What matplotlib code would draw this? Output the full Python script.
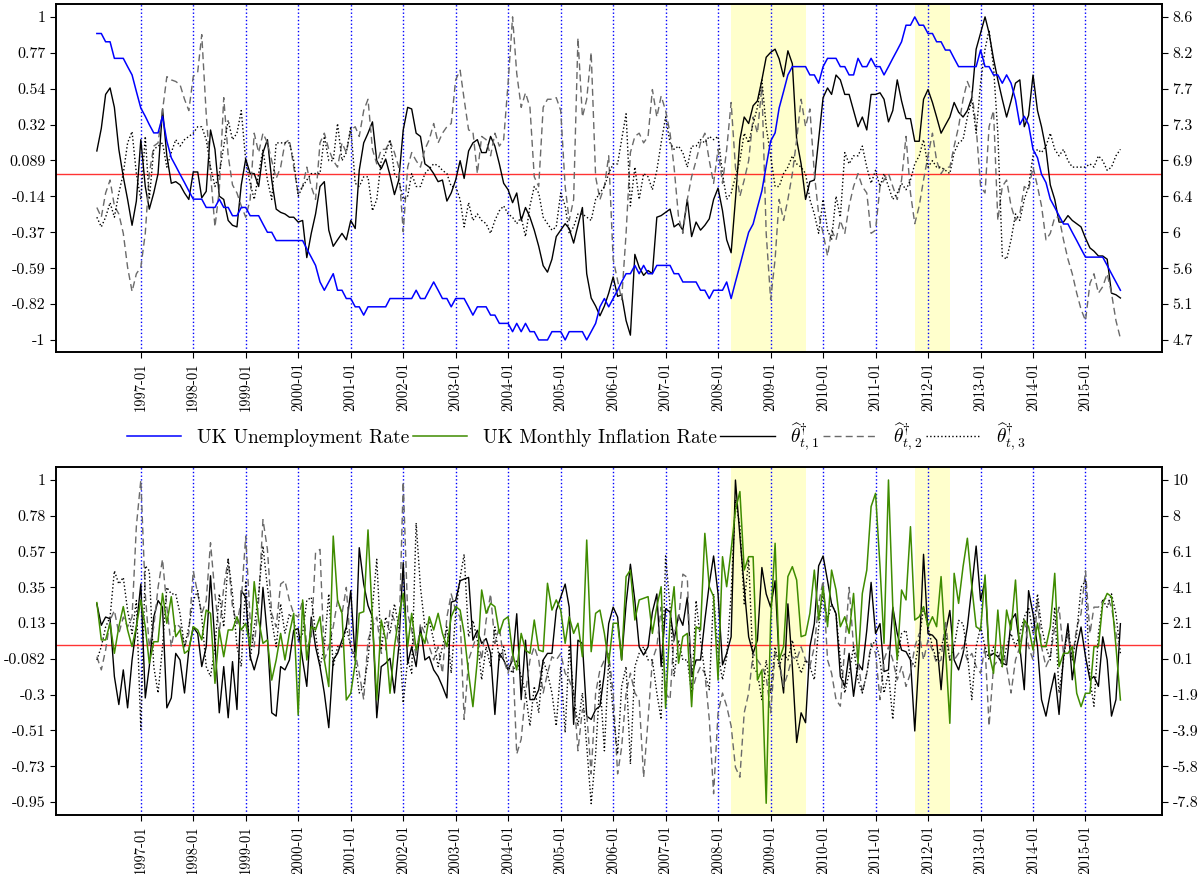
import numpy as np
import pandas as pd
import matplotlib
matplotlib.use('Agg')
import matplotlib.pyplot as plt

plt.rcParams['font.family'] = 'serif'
plt.rcParams['font.serif'] = ['cmr10']
plt.rcParams['mathtext.fontset'] = 'cm'
plt.rcParams['axes.unicode_minus'] = False

# monthly data, 1996-03 .. 2015-09
dates = pd.date_range('1996-03-01', periods=235, freq='MS')

unemp = [
    8.4, 8.4, 8.3, 8.3, 8.1, 8.1, 8.1, 8.0, 7.9, 7.7,
    7.5, 7.4, 7.3, 7.2, 7.2, 7.4, 7.1, 6.9, 6.8, 6.7,
    6.6, 6.5, 6.4, 6.4, 6.4, 6.3, 6.3, 6.3, 6.4, 6.3,
    6.3, 6.2, 6.2, 6.3, 6.3, 6.2, 6.2, 6.2, 6.1, 6.0,
    6.0, 5.9, 5.9, 5.9, 5.9, 5.9, 5.9, 5.9, 5.8, 5.7,
    5.6, 5.4, 5.3, 5.4, 5.5, 5.3, 5.3, 5.2, 5.2, 5.1,
    5.1, 5.0, 5.1, 5.1, 5.1, 5.1, 5.1, 5.2, 5.2, 5.2,
    5.2, 5.2, 5.2, 5.3, 5.2, 5.2, 5.3, 5.4, 5.3, 5.2,
    5.2, 5.1, 5.2, 5.2, 5.2, 5.1, 5.0, 5.1, 5.1, 5.1,
    5.0, 5.0, 4.9, 4.9, 4.9, 4.8, 4.9, 4.8, 4.9, 4.8,
    4.8, 4.7, 4.7, 4.7, 4.8, 4.8, 4.8, 4.7, 4.8, 4.8,
    4.8, 4.8, 4.7, 4.8, 4.9, 5.1, 5.2, 5.1, 5.2, 5.3,
    5.4, 5.5, 5.5, 5.6, 5.5, 5.6, 5.5, 5.5, 5.6, 5.6,
    5.6, 5.6, 5.5, 5.5, 5.4, 5.4, 5.4, 5.4, 5.3, 5.3,
    5.2, 5.3, 5.3, 5.3, 5.4, 5.2, 5.4, 5.6, 5.8, 6.0,
    6.1, 6.3, 6.5, 6.8, 7.1, 7.2, 7.5, 7.7, 7.9, 8.0,
    8.0, 8.0, 8.0, 7.9, 7.9, 7.8, 8.0, 8.1, 8.1, 8.1,
    8.0, 8.0, 7.9, 7.9, 8.1, 8.0, 8.0, 8.1, 8.0, 8.0,
    7.9, 8.0, 8.1, 8.2, 8.3, 8.5, 8.5, 8.6, 8.5, 8.5,
    8.4, 8.4, 8.3, 8.3, 8.2, 8.2, 8.1, 8.0, 8.0, 8.0,
    8.0, 8.0, 8.2, 8.0, 8.0, 7.9, 7.9, 7.8, 7.9, 7.8,
    7.6, 7.3, 7.4, 7.3, 7.0, 6.9, 6.7, 6.6, 6.4, 6.3,
    6.2, 6.1, 6.1, 6.0, 5.9, 5.8, 5.7, 5.7, 5.7, 5.7,
    5.7, 5.6, 5.5, 5.4, 5.3]

th1_top = [
    0.17, 0.31, 0.52, 0.56, 0.44, 0.18, 0.01, -0.13, -0.29, -0.14,
    0.24, -0.05, -0.19, -0.09, 0.03, 0.43, 0.14, -0.03, -0.02, -0.04,
    -0.09, -0.13, 0.04, 0.04, -0.12, -0.08, 0.30, 0.18, -0.11, -0.13,
    -0.26, -0.29, -0.30, -0.04, 0.12, 0.03, 0.03, -0.05, 0.16, 0.24,
    -0.01, -0.19, -0.21, -0.22, -0.24, -0.24, -0.27, -0.26, -0.49, -0.34,
    -0.22, -0.05, -0.02, -0.32, -0.42, -0.38, -0.34, -0.38, -0.26, -0.31,
    0.05, 0.22, 0.28, 0.35, 0.11, 0.06, 0.12, 0.02, -0.10, -0.01,
    0.30, 0.44, 0.43, 0.28, 0.26, 0.09, 0.07, 0.03, -0.02, -0.01,
    -0.14, -0.09, -0.01, 0.11, 0.00, 0.17, 0.22, 0.24, 0.16, 0.16,
    0.26, 0.20, 0.09, -0.03, -0.07, -0.15, -0.09, -0.26, -0.18, -0.24,
    -0.32, -0.42, -0.54, -0.58, -0.50, -0.36, -0.32, -0.28, -0.31, -0.40,
    -0.29, -0.18, -0.59, -0.74, -0.79, -0.85, -0.79, -0.71, -0.61, -0.73,
    -0.72, -0.88, -0.97, -0.47, -0.55, -0.60, -0.57, -0.59, -0.24, -0.23,
    -0.21, -0.19, -0.30, -0.28, -0.32, -0.13, -0.36, -0.27, -0.32, -0.29,
    -0.25, -0.13, -0.06, -0.20, -0.38, -0.46, -0.13, 0.24, 0.38, 0.34,
    0.45, 0.48, 0.61, 0.75, 0.78, 0.80, 0.74, 0.63, 0.79, 0.71,
    0.24, 0.09, -0.13, -0.02, -0.01, 0.24, 0.50, 0.56, 0.52, 0.64,
    0.61, 0.52, 0.52, 0.42, 0.32, 0.38, 0.30, 0.52, 0.52, 0.53,
    0.49, 0.35, 0.42, 0.61, 0.48, 0.37, 0.37, 0.23, 0.23, 0.49,
    0.55, 0.47, 0.38, 0.28, 0.33, 0.38, 0.47, 0.41, 0.38, 0.42,
    0.50, 0.80, 0.90, 1.00, 0.90, 0.74, 0.61, 0.49, 0.38, 0.48,
    0.59, 0.61, 0.32, 0.39, 0.64, 0.42, 0.32, 0.18, -0.04, -0.13,
    -0.27, -0.27, -0.23, -0.26, -0.28, -0.30, -0.37, -0.43, -0.45, -0.48,
    -0.48, -0.50, -0.71, -0.72, -0.74]

th2_top = [
    -0.18, -0.24, -0.09, -0.01, -0.17, -0.22, -0.34, -0.55, -0.70, -0.59,
    -0.55, -0.34, 0.03, 0.20, 0.22, 0.42, 0.63, 0.61, 0.60, 0.58,
    0.49, 0.42, 0.63, 0.66, 0.89, 0.40, 0.03, -0.30, -0.07, 0.50,
    0.14, -0.04, -0.09, -0.17, -0.24, -0.13, 0.28, 0.16, 0.28, 0.22,
    0.11, 0.00, 0.07, 0.22, 0.24, 0.07, -0.09, -0.05, 0.07, -0.05,
    -0.13, 0.22, 0.28, 0.18, 0.11, 0.07, 0.22, 0.16, 0.30, 0.32,
    0.26, 0.42, 0.49, 0.18, 0.09, 0.18, 0.18, 0.23, 0.16, 0.07,
    -0.33, 0.07, 0.16, 0.11, 0.07, 0.18, 0.24, 0.34, 0.22, 0.28,
    0.32, 0.34, 0.61, 0.67, 0.49, 0.30, 0.29, 0.03, 0.26, 0.24,
    0.14, 0.28, 0.20, 0.24, 0.59, 1.00, 0.65, 0.44, 0.53, 0.44,
    0.01, -0.05, 0.44, 0.49, 0.49, 0.50, 0.42, -0.05, -0.26, -0.13,
    0.87, 0.38, 0.49, 0.78, 0.01, -0.13, -0.05, 0.14, -0.50, -0.63,
    -0.75, -0.34, 0.16, 0.26, 0.28, 0.22, 0.26, 0.55, 0.38, 0.51,
    0.42, 0.28, 0.07, -0.24, -0.34, -0.13, 0.01, 0.11, 0.22, 0.28,
    0.11, -0.03, 0.18, -0.03, 0.18, 0.47, 0.07, -0.11, -0.01, 0.11,
    0.38, 0.28, 0.57, -0.34, -0.75, -0.50, -0.13, -0.26, -0.13, 0.03,
    0.24, 0.49, 0.32, 0.43, 0.03, -0.22, -0.34, -0.48, -0.32, -0.38,
    -0.26, -0.34, -0.17, -0.05, 0.03, -0.05, -0.09, -0.34, -0.32, -0.05,
    -0.01, 0.03, -0.05, -0.13, -0.01, 0.26, -0.09, -0.28, -0.17, -0.01,
    0.14, 0.28, 0.11, 0.03, 0.07, 0.07, 0.20, 0.32, 0.49, 0.60,
    0.53, 0.32, -0.05, -0.09, 0.32, 0.42, -0.26, -0.05, -0.01, -0.17,
    -0.26, -0.22, -0.05, -0.07, 0.07, -0.05, -0.17, -0.38, -0.34, -0.24,
    -0.24, -0.38, -0.50, -0.59, -0.71, -0.81, -0.88, -0.65, -0.59, -0.71,
    -0.67, -0.59, -0.71, -0.88, -0.99]

th3_top = [
    -0.24, -0.30, -0.24, -0.15, -0.24, -0.09, 0.03, 0.22, 0.29, 0.03,
    -0.13, 0.26, -0.13, 0.18, 0.20, 0.22, 0.07, 0.16, 0.24, 0.20,
    0.24, 0.26, 0.28, 0.32, 0.32, 0.24, 0.07, -0.05, 0.03, 0.20,
    0.36, 0.24, 0.28, 0.42, 0.11, -0.03, -0.13, 0.03, 0.18, -0.01,
    -0.13, 0.22, 0.22, 0.22, 0.22, 0.11, -0.11, -0.05, -0.01, 0.03,
    0.03, 0.03, 0.26, 0.11, 0.11, 0.34, 0.11, 0.16, 0.32, -0.03,
    -0.05, 0.01, 0.01, -0.20, -0.13, 0.11, 0.16, 0.24, 0.03, -0.01,
    -0.13, -0.11, 0.03, -0.05, -0.05, 0.03, 0.06, 0.09, 0.08, 0.05,
    0.03, -0.05, -0.05, -0.13, -0.30, -0.15, -0.26, -0.22, -0.26, -0.28,
    -0.34, -0.26, -0.20, -0.17, -0.22, -0.24, -0.28, -0.24, -0.36, -0.17,
    -0.05, -0.09, -0.24, -0.28, -0.32, -0.30, -0.09, -0.17, -0.34, -0.30,
    -0.22, -0.22, -0.24, -0.26, -0.13, -0.09, -0.05, 0.03, 0.09, 0.09,
    0.24, 0.40, -0.17, 0.07, -0.13, 0.03, 0.01, -0.07, 0.05, 0.22,
    0.38, 0.22, 0.18, 0.20, 0.16, 0.07, 0.20, 0.20, 0.24, 0.22,
    0.26, 0.24, 0.26, 0.03, -0.13, -0.09, 0.01, 0.11, 0.28, 0.22,
    0.34, 0.44, 0.61, 0.32, 0.14, -0.05, -0.05, 0.03, 0.07, 0.14,
    0.09, 0.07, 0.03, -0.13, -0.22, -0.34, -0.13, -0.32, -0.38, -0.11,
    -0.24, 0.16, 0.09, 0.14, 0.14, 0.20, 0.07, -0.03, 0.05, -0.05,
    0.03, -0.05, -0.13, -0.09, -0.03, -0.07, -0.01, 0.09, 0.14, 0.24,
    0.07, 0.11, 0.07, 0.07, 0.05, 0.03, 0.16, 0.22, 0.24, 0.38,
    0.49, 0.28, 0.59, 0.80, 0.92, 0.69, 0.28, -0.48, -0.50, -0.38,
    -0.22, -0.26, -0.13, -0.05, 0.14, 0.18, 0.16, 0.20, 0.28, 0.18,
    0.14, 0.18, 0.11, 0.07, 0.07, 0.07, 0.07, 0.09, 0.07, 0.14,
    0.11, 0.05, 0.07, 0.14, 0.18]

infl = [
    3.22, 1.16, 1.16, 2.08, 0.42, 1.89, 3.00, 1.71, 0.79, 1.89,
    3.37, 1.89, -0.13, 1.06, 1.06, 3.73, 2.08, 3.55, 1.34, 1.71,
    0.42, 0.60, 1.89, 1.71, 1.16, 2.81, 2.63, -1.24, 1.71, 0.23,
    1.71, 1.71, 2.44, 1.71, 2.08, 0.79, 4.38, 2.26, 0.97, 1.16,
    -1.06, 0.05, 1.52, 0.05, 1.52, 2.63, -2.99, 3.37, 0.05, 1.89,
    1.71, 2.44, 0.05, -1.42, 6.90, 3.37, 2.63, -2.16, -1.79, -0.13,
    2.63, 2.72, 7.24, 2.26, -2.16, 2.26, 1.16, -1.79, 0.79, 2.44,
    3.73, 0.79, 2.63, 0.60, 1.52, 0.97, 2.44, 1.71, 2.63, 1.52,
    0.79, 2.44, 3.00, 2.81, 1.52, -0.69, -2.53, 0.05, 3.92, 2.63,
    3.18, 3.00, 1.52, 2.26, 2.44, 0.42, -0.50, 1.52, 0.60, 0.42,
    2.26, 0.60, 0.51, 4.29, 2.81, 3.37, 2.81, 0.97, 2.44, 1.52,
    2.08, 0.23, 6.68, 0.51, 2.63, 2.81, 1.52, -0.13, 2.08, 2.08,
    0.05, 4.66, 5.02, 2.26, 3.37, 3.46, 3.55, 1.52, 3.00, 4.10,
    -2.62, 2.26, 4.10, -0.13, 1.34, 1.52, -2.53, 1.89, 1.71, 7.05,
    4.10, 3.55, -1.06, 5.76, 4.10, 6.13, 8.34, 9.36, 5.02, 5.76,
    5.76, -1.06, -0.50, -7.87, 2.26, 6.50, 0.05, 0.79, 4.66, 5.21,
    4.47, 1.34, 1.43, 2.63, 5.02, 2.26, 4.10, 1.89, 5.02, 3.92,
    1.89, 2.44, 1.52, 3.73, -0.13, 3.73, 5.02, 8.53, 9.26, 5.21,
    0.97, 10.0, 3.00, 0.05, 3.92, 3.37, 7.42, 2.26, 2.44, 3.00,
    1.89, 2.44, 1.89, 4.66, 0.79, -3.45, 4.84, 3.18, 5.21, 6.78,
    4.10, 1.89, 1.71, 4.75, 0.42, -0.69, 2.81, -0.32, 2.81, 1.71,
    4.47, 0.42, 2.26, 1.89, 0.60, 2.08, 0.79, 0.79, 1.89, 4.84,
    -0.32, 0.42, 0.42, 0.79, -1.79, -2.53, -1.79, -1.79, 0.79, 0.79,
    3.18, 3.73, 3.55, 0.79, -2.16]

th1_bot = [
    0.25, 0.12, 0.17, 0.16, -0.19, -0.36, -0.15, -0.38, -0.09, 0.11,
    0.37, -0.32, -0.13, 0.17, 0.27, 0.23, -0.38, -0.32, -0.05, -0.09,
    -0.29, -0.03, 0.11, 0.07, -0.13, -0.01, 0.42, 0.01, -0.41, -0.13,
    -0.44, -0.10, -0.39, 0.33, 0.29, -0.07, -0.15, -0.05, 0.35, 0.05,
    -0.41, -0.43, -0.13, -0.15, -0.09, 0.09, 0.10, -0.09, -0.25, 0.17,
    -0.01, -0.13, -0.29, -0.50, -0.09, -0.05, 0.03, 0.11, 0.33, -0.09,
    0.59, 0.37, 0.24, 0.17, -0.44, -0.13, -0.11, -0.08, -0.29, -0.01,
    0.50, -0.11, -0.01, -0.13, 0.11, -0.09, -0.07, -0.15, -0.19, -0.25,
    -0.32, 0.26, 0.27, 0.39, 0.40, 0.41, 0.03, 0.09, 0.01, 0.04,
    -0.05, -0.42, -0.05, -0.09, -0.15, -0.09, 0.19, -0.33, 0.03, -0.33,
    -0.33, -0.27, -0.09, -0.05, -0.05, 0.21, 0.29, 0.37, 0.23, -0.48,
    0.03, 0.01, -0.43, -0.45, -0.39, -0.37, -0.17, 0.13, 0.23, 0.17,
    -0.09, 0.25, 0.49, 0.27, -0.01, -0.06, -0.01, 0.20, 0.31, -0.13,
    0.22, 0.20, 0.03, 0.18, 0.12, 0.29, -0.19, -0.09, -0.09, 0.15,
    0.37, 0.54, 0.31, -0.12, -0.05, 0.05, 1.00, 0.66, 0.35, 0.05,
    -0.05, 0.03, 0.47, 0.31, 0.23, 0.39, -0.09, -0.29, 0.25, -0.13,
    -0.59, -0.41, -0.47, -0.01, 0.13, 0.48, 0.54, 0.39, 0.25, 0.19,
    -0.19, -0.25, -0.05, -0.31, -0.11, -0.15, 0.09, 0.38, 0.07, 0.13,
    -0.16, -0.15, 0.23, 0.07, -0.03, -0.04, -0.09, -0.52, -0.05, 0.55,
    0.07, 0.06, 0.03, -0.27, 0.07, 0.21, -0.09, -0.15, -0.05, 0.11,
    0.35, 0.60, 0.27, 0.39, -0.07, -0.05, -0.07, -0.11, -0.12, 0.15,
    0.19, -0.01, -0.27, 0.33, 0.19, -0.01, -0.33, -0.43, -0.29, -0.17,
    -0.42, -0.07, 0.13, -0.21, -0.01, 0.11, -0.07, -0.21, -0.19, -0.25,
    0.05, -0.09, -0.43, -0.33, 0.13]

th2_bot = [
    -0.07, -0.15, -0.03, 0.15, 0.21, 0.07, 0.17, 0.11, 0.17, 0.72,
    1.00, 0.31, -0.01, 0.11, 0.35, 0.52, 0.23, -0.01, 0.13, 0.11,
    -0.01, 0.07, 0.45, 0.31, 0.19, 0.27, 0.62, 0.31, 0.07, 0.35,
    0.52, 0.23, 0.13, 0.27, 0.66, 0.15, -0.01, 0.27, 0.76, 0.58,
    0.19, 0.11, 0.37, 0.39, 0.27, 0.19, 0.17, 0.27, -0.01, 0.03,
    0.56, 0.58, -0.09, -0.01, 0.11, 0.27, 0.19, 0.35, -0.03, -0.05,
    -0.17, -0.33, 0.03, 0.11, 0.17, -0.05, -0.03, 0.21, 0.15, -0.01,
    0.99, 0.19, 0.09, -0.07, 0.13, 0.07, -0.01, -0.09, -0.01, -0.17,
    0.17, 0.31, 0.21, 0.17, -0.45, -0.09, -0.01, 0.07, -0.09, 0.15,
    0.31, 0.01, 0.11, -0.09, -0.17, -0.05, -0.66, -0.57, -0.29, -0.09,
    -0.01, -0.09, -0.29, -0.17, -0.07, -0.09, -0.05, -0.17, -0.21, -0.29,
    -0.64, -0.39, -0.41, -0.78, -0.29, -0.15, -0.09, -0.05, -0.29, -0.78,
    -0.62, -0.29, -0.17, -0.29, -0.33, -0.80, -0.45, -0.09, -0.01, 0.23,
    -0.29, -0.33, 0.07, 0.15, 0.43, 0.41, -0.29, -0.19, -0.13, -0.17,
    -0.45, -0.90, -0.41, -0.29, -0.37, -0.49, -0.74, -0.80, -0.41, -0.29,
    -0.05, -0.09, -0.13, -0.19, -0.41, -0.05, -0.09, -0.25, -0.17, -0.07,
    -0.09, -0.01, -0.09, -0.13, -0.01, 0.25, 0.39, -0.09, -0.17, -0.33,
    -0.37, -0.01, 0.35, -0.01, -0.09, -0.29, -0.17, 0.01, -0.05, -0.33,
    -0.09, -0.01, -0.09, -0.21, -0.13, -0.25, -0.17, -0.01, 0.07, -0.09,
    0.03, -0.03, -0.11, -0.09, 0.15, -0.09, -0.09, -0.05, -0.01, -0.09,
    -0.05, -0.13, -0.17, -0.01, -0.49, -0.13, -0.09, -0.01, -0.13, -0.29,
    -0.09, -0.01, 0.15, -0.01, -0.09, 0.27, -0.01, -0.13, -0.07, 0.11,
    0.23, -0.05, 0.07, -0.09, 0.11, 0.19, 0.45, 0.07, 0.23, 0.23,
    0.27, 0.29, 0.23, 0.07, -0.05]

th3_bot = [
    -0.09, -0.01, 0.11, 0.17, 0.45, 0.37, 0.41, 0.21, 0.07, 0.27,
    -0.51, 0.48, 0.45, -0.13, -0.29, -0.01, 0.35, 0.31, 0.31, 0.19,
    -0.01, 0.11, 0.27, 0.33, 0.17, -0.13, -0.19, -0.01, 0.31, 0.11,
    0.52, 0.31, -0.01, -0.13, 0.39, -0.09, 0.11, 0.31, 0.60, 0.35,
    0.15, -0.01, 0.25, 0.07, 0.19, 0.15, 0.03, 0.07, 0.27, 0.29,
    0.07, -0.13, -0.01, 0.31, -0.13, -0.01, -0.01, 0.11, -0.01, -0.09,
    -0.29, -0.25, -0.09, 0.23, 0.52, -0.03, 0.17, 0.07, 0.25, 0.11,
    -0.35, -0.09, -0.17, 0.74, 0.35, 0.11, 0.15, 0.03, -0.13, -0.01,
    0.11, -0.17, 0.19, 0.41, 0.55, 0.05, 0.15, 0.03, -0.21, -0.01,
    -0.13, 0.11, -0.09, -0.01, -0.13, -0.17, -0.09, -0.19, -0.29, -0.49,
    -0.25, -0.41, -0.09, -0.17, -0.29, -0.49, -0.13, -0.53, -0.01, -0.29,
    -0.49, -0.29, -0.61, -0.96, -0.66, -0.21, -0.64, -0.09, -0.41, -0.66,
    -0.25, -0.13, -0.72, -0.13, -0.05, -0.01, -0.09, -0.09, -0.29, -0.45,
    0.54, 0.23, -0.19, 0.03, -0.09, -0.09, -0.29, 0.27, 0.03, -0.17,
    -0.27, 0.31, -0.05, -0.21, -0.07, 0.31, 0.88, 0.72, 0.25, 0.52,
    -0.13, -0.17, -0.33, -0.09, -0.29, -0.01, -0.13, -0.05, -0.09, 0.03,
    -0.09, -0.17, -0.09, -0.13, -0.21, 0.11, 0.31, 0.15, 0.25, 0.19,
    -0.09, -0.29, -0.17, -0.01, -0.21, -0.29, -0.17, -0.01, 0.03, -0.09,
    -0.29, -0.17, -0.45, -0.09, 0.07, 0.09, -0.09, -0.13, 0.03, 0.23,
    0.11, -0.01, -0.09, -0.01, 0.07, -0.09, -0.01, 0.15, 0.13, -0.05,
    -0.33, -0.01, 0.11, -0.01, -0.09, -0.01, -0.05, -0.13, -0.01, 0.07,
    -0.01, 0.07, 0.17, 0.23, 0.07, 0.31, 0.11, -0.01, -0.09, 0.23,
    -0.29, -0.09, 0.11, -0.09, 0.07, 0.35, 0.39, -0.21, -0.37, 0.07,
    0.27, 0.23, 0.31, 0.19, -0.05]

for s in (unemp, th1_top, th2_top, th3_top, infl, th1_bot, th2_bot, th3_bot):
    assert len(s) == len(dates), len(s)

# axis tick labels as printed on the chart
top_left_labels = ['-1', '-0.82', '-0.59', '-0.37', '-0.14', '0.089', '0.32', '0.54', '0.77', '1']
top_right_labels = ['4.7', '5.1', '5.6', '6', '6.4', '6.9', '7.3', '7.7', '8.2', '8.6']
bot_left_labels = ['-0.95', '-0.73', '-0.51', '-0.3', '-0.082', '0.13', '0.35', '0.57', '0.78', '1']
bot_right_labels = ['-7.8', '-5.8', '-3.9', '-1.9', '0.1', '2.1', '4.1', '6.1', '8', '10']

shaded = [('2008-04-01', '2009-09-01'), ('2011-10-01', '2012-06-01')]
years = pd.date_range('1997-01-01', '2015-01-01', freq='YS')

BLUE = '#0000ff'
GREEN = '#3f8c00'
GRAY = '#6a6a6a'

fig = plt.figure(figsize=(12, 8.74), dpi=100)
ax_top = fig.add_axes([0.0467, 0.5973, 0.9217, 0.3982])
ax_bot = fig.add_axes([0.0467, 0.0675, 0.9217, 0.3982])


def panel(ax, th1, th2, th3, other, color, name, lticks, llabels, rticks, rlabels,
          ylim_l, ylim_r, zero):
    for a, b in shaded:
        ax.axvspan(pd.Timestamp(a), pd.Timestamp(b), color='#ffffcc', zorder=0, lw=0)
    for y in years:
        ax.axvline(y, color=BLUE, ls=':', lw=1.0, zorder=1)
    ax.axhline(zero, color='red', lw=1.0, alpha=0.8, zorder=1)
    l1, = ax.plot(dates, th1, color='black', lw=1.0, zorder=3,
                  label=r'$\widehat{\theta}^{\dagger}_{t,1}$')
    l2, = ax.plot(dates, th2, color=GRAY, lw=1.0, dashes=(5, 3), zorder=3,
                  label=r'$\widehat{\theta}^{\dagger}_{t,2}$')
    l3, = ax.plot(dates, th3, color='black', lw=1.0, ls=':', zorder=3,
                  label=r'$\widehat{\theta}^{\dagger}_{t,3}$')
    ax.set_ylim(*ylim_l)
    ax.set_yticks(lticks)
    ax.set_yticklabels(llabels, fontsize=11.5)
    ax.set_xlim(pd.Timestamp('1995-05-22'), pd.Timestamp('2016-06-17'))
    ax.set_xticks(years)
    ax.set_xticklabels([y.strftime('%Y-%m') for y in years], rotation=90, fontsize=10.5)
    ax.tick_params(length=4, width=0.8)

    ax2 = ax.twinx()
    lo, = ax2.plot(dates, other, color=color, lw=1.1, zorder=4, label=name)
    ax2.set_ylim(*ylim_r)
    ax2.set_yticks(rticks)
    ax2.set_yticklabels(rlabels, fontsize=11.5)
    ax2.tick_params(length=4, width=0.8)
    for a in (ax, ax2):
        for sp in a.spines.values():
            sp.set_linewidth(1.2)
    return lo, l1, l2, l3


lu, t1, t2, t3 = panel(ax_top, th1_top, th2_top, th3_top, unemp, BLUE,
                       'UK Unemployment Rate',
                       np.linspace(-1, 1, 10), top_left_labels,
                       np.linspace(4.7, 8.6, 10), top_right_labels,
                       (-1.074, 1.080), (4.555, 8.757), 0.03)
li, _, _, _ = panel(ax_bot, th1_bot, th2_bot, th3_bot, infl, GREEN,
                    'UK Monthly Inflation Rate',
                    np.linspace(-0.95, 1, 10), bot_left_labels,
                    np.linspace(-7.8, 10, 10), bot_right_labels,
                    (-1.029, 1.079), (-8.519, 10.719), 0.0)

fig.legend([lu, li, t1, t2, t3], [h.get_label() for h in (lu, li, t1, t2, t3)],
           loc='center', bbox_to_anchor=(0.48, 0.5), ncol=5, frameon=False,
           fontsize=14, columnspacing=0.2, handlelength=2.8, handletextpad=0.8)

fig.savefig('out.png', dpi=100)
